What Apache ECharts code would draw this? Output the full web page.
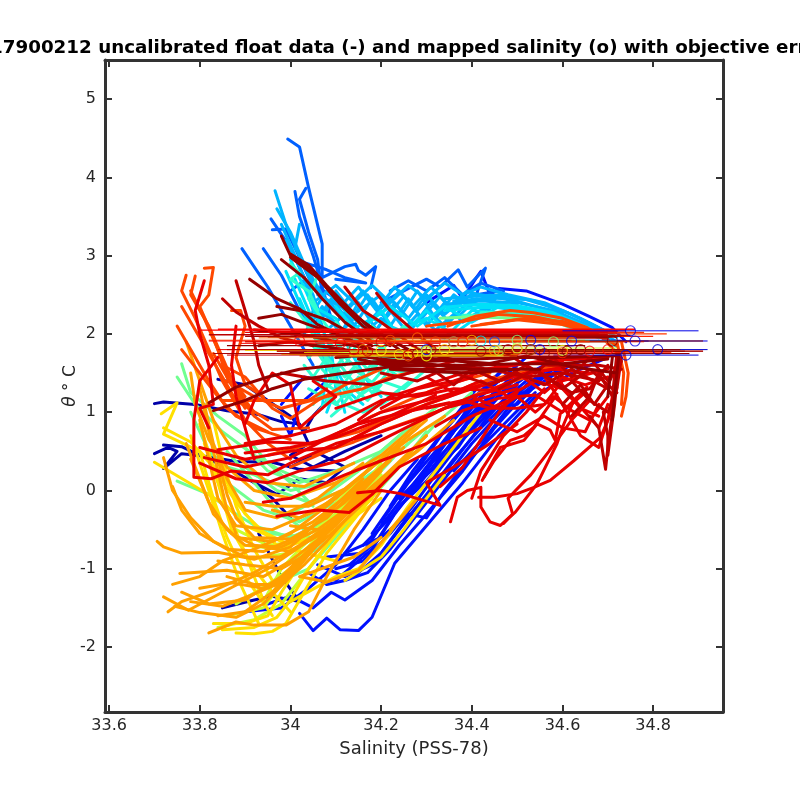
<!DOCTYPE html>
<html>
<head>
<meta charset="utf-8">
<script src="https://cdn.jsdelivr.net/npm/echarts@6/dist/echarts.min.js"></script>
<style>html,body{margin:0;padding:0;background:#fff}#chart{width:800px;height:800px}</style>
</head>
<body>
<div id="chart"></div>
<script>
var xTicks=[33.6,33.8,34,34.2,34.4,34.6,34.8];
var yTicks=[-2,-1,0,1,2,3,4,5];

// profiles: salinity,theta,salinity,theta,...
var navyProfiles=[
[33.70,1.11,33.72,1.13,33.79,1.1,33.86,1.02,33.93,0.97,33.98,0.88,34.02,0.85,34.04,0.6,34.0,0.45,34.05,0.3,34.12,0.5,34.2,0.7],
[33.70,0.47,33.73,0.55,33.75,0.5,33.72,0.28,33.76,0.47,33.82,0.43,33.88,0.37,33.96,0.36,34.02,0.27,34.1,0.25],
[33.72,0.58,33.76,0.56,33.8,0.45,33.86,0.3,33.92,0.1,33.96,-0.1,34.0,-0.35],
[33.84,1.42,33.9,1.35,33.95,1.15,34.0,0.95,34.03,0.75,34.05,0.95,34.09,1.2],
[33.92,0.1,33.97,-0.05,34.02,0.15,34.08,0.1,34.12,0.3,34.06,0.48,34.0,0.3],
[33.85,-1.5,33.92,-1.4,33.96,-1.35,34.02,-1.42,33.98,-1.1,33.93,-0.55]
];
var blueProfiles=[
[34.02,-1.57,34.05,-1.79,34.08,-1.63,34.11,-1.78,34.15,-1.79,34.18,-1.62,34.23,-0.93,34.3,-0.45,34.38,0.1,34.46,0.7,34.54,1.2,34.62,1.5,34.7,1.7],
[33.95,-1.45,34.0,-1.35,34.05,-1.5,34.09,-1.3,34.12,-1.4,34.18,-1.15,34.24,-0.7,34.3,-0.3,34.38,0.25,34.45,0.8,34.52,1.25,34.6,1.55],
[34.04,-1.05,34.08,-1.2,34.12,-1.15,34.17,-1.05,34.22,-0.75,34.28,-0.3,34.34,0.15,34.4,0.6,34.48,1.1,34.56,1.45,34.66,1.7],
[34.06,-0.95,34.12,-1.1,34.18,-0.95,34.24,-0.5,34.3,-0.05,34.36,0.4,34.42,0.8,34.5,1.25,34.58,1.55],
[34.1,-1.0,34.16,-0.9,34.22,-0.55,34.27,-0.2,34.32,0.2,34.38,0.65,34.44,1.0,34.52,1.4],
[34.08,-0.85,34.16,-0.8,34.2,-0.45,34.26,0,34.3,0.3,34.35,0.7,34.42,1.1,34.5,1.5],
[34.12,-0.8,34.2,-0.6,34.26,-0.3,34.3,-0.35,34.34,0,34.38,0.3,34.42,0.55,34.48,0.9,34.54,1.25],
[34.16,-0.7,34.22,-0.35,34.28,0.05,34.34,0.5,34.4,0.95,34.46,1.3,34.56,1.6],
[34.2,-0.4,34.26,0.1,34.32,0.5,34.38,0.95,34.45,1.4],
[34.24,-0.1,34.3,0.25,34.36,0.75,34.4,1.15,34.48,1.6],
[34.28,0.1,34.34,0.6,34.42,1.2,34.52,1.7],
[33.9,-1.55,33.98,-1.5,34.04,-1.25,34.1,-0.95,34.16,-0.5,34.22,0.0,34.28,0.4],
[34.3,2.4,34.36,2.62,34.38,2.45,34.41,2.72,34.42,2.8,34.44,2.5,34.46,2.58,34.52,2.55,34.6,2.38,34.66,2.22,34.71,2.08,34.74,1.9],
[33.98,0.95,34.0,0.7,34.02,1.1,34.08,1.4,34.03,1.45,33.98,1.1],
[34.14,-1.1,34.2,-0.8,34.25,-0.4,34.31,0.0,34.37,0.45,34.43,0.9,34.5,1.35],
[34.1,-1.15,34.18,-0.75,34.23,-0.3,34.29,0.15,34.34,0.4,34.4,0.8,34.46,1.2,34.53,1.5],
[34.13,-0.95,34.19,-0.65,34.24,-0.2,34.3,0.12,34.37,0.6,34.43,1.05,34.5,1.45],
[34.26,-0.05,34.31,0.35,34.36,0.6,34.41,1.05,34.47,1.35],
[34.3,0.2,34.35,0.5,34.39,0.85,34.44,1.15,34.5,1.55],
[34.22,-0.2,34.27,0.25,34.33,0.7,34.39,1.1,34.46,1.5],
[34.18,-0.55,34.24,-0.05,34.29,0.35,34.35,0.85,34.41,1.3],
[34.33,0.35,34.37,0.55,34.41,0.9,34.45,1.05,34.5,1.1,34.55,1.4],
[34.36,0.25,34.4,0.5,34.44,0.75,34.48,1.05,34.52,1.35,34.58,1.6]
];
var azureProfiles=[
[33.994,4.49,34.02,4.39,34.04,3.87,34.07,3.15,34.07,2.72,34.12,2.86,34.144,2.89,34.15,2.81,34.166,2.75,34.188,2.86,34.177,2.59],
[34.01,3.82,34.02,3.5,34.05,3.0,34.07,2.6,34.09,2.2],
[34.034,3.86,34.02,3.72,34.04,3.3,34.06,2.95,34.07,2.5],
[33.957,3.47,34.0,3.1,34.04,2.6,34.07,2.2],
[33.96,3.33,33.99,3.34,34.01,3.1,34.05,2.6],
[33.893,3.09,33.95,2.6,34.0,2.1,34.05,1.6],
[33.94,3.09,33.98,2.75,34.02,2.3,34.05,2.0],
[34.02,2.93,34.08,2.82,34.12,2.72,34.166,2.65,34.1,2.7],
[34.0,2.55,34.03,2.68,34.06,2.6,34.1,2.45],
[34.2,2.4,34.25,2.55,34.3,2.7,34.33,2.6,34.37,2.82,34.39,2.6,34.43,2.84,34.41,2.5,34.46,2.55],
[34.22,2.55,34.26,2.68,34.3,2.55,34.34,2.72,34.38,2.5,34.42,2.65,34.47,2.55]
];
var skyProfiles=[
[33.966,3.83,33.99,3.4,34.02,3.0,34.05,2.6,34.1,2.3],
[33.97,3.6,34.0,3.3,34.03,2.9,34.06,2.55,34.12,2.2],
[34.02,3.4,34.01,3.1,34.04,2.8,34.08,2.4],
[33.98,3.4,34.01,3.0,34.03,2.7,34.05,2.3],
[33.99,3.2,34.02,2.85,34.05,2.5,34.07,2.1],
[34.05,2.4,34.1,2.62,34.14,2.4,34.18,2.62,34.22,2.4,34.26,2.62,34.3,2.45,34.34,2.65,34.38,2.5,34.42,2.6,34.48,2.5,34.56,2.4,34.64,2.2,34.7,2.02],
[34.04,2.2,34.08,2.55,34.12,2.3,34.16,2.55,34.2,2.25,34.24,2.55,34.28,2.3,34.32,2.55,34.36,2.3,34.4,2.52,34.5,2.42,34.6,2.25,34.68,2.05],
[34.05,2.1,34.09,2.45,34.13,2.15,34.17,2.5,34.21,2.2,34.25,2.48,34.29,2.2,34.33,2.48,34.37,2.22,34.41,2.45,34.5,2.35,34.6,2.2,34.68,2.0],
[34.03,2.0,34.07,2.35,34.11,2.0,34.15,2.4,34.19,2.05,34.23,2.4,34.27,2.1,34.31,2.4,34.35,2.15,34.39,2.4,34.5,2.3,34.62,2.1],
[34.03,2.6,34.07,2.2,34.1,2.5,34.14,2.1,34.18,2.45,34.22,2.1,34.26,2.45,34.3,2.1,34.34,2.4,34.38,2.15,34.44,2.38,34.55,2.25,34.66,2.0],
[34.1,2.55,34.14,2.25,34.2,2.5,34.24,2.2,34.28,2.55,34.32,2.2,34.36,2.5,34.42,2.25,34.46,2.5,34.52,2.3,34.6,2.28],
[34.06,2.5,34.11,2.35,34.15,2.6,34.19,2.3,34.23,2.6,34.27,2.35,34.31,2.6,34.35,2.35,34.39,2.55,34.45,2.42],
[34.06,2.3,34.1,2.15,34.14,2.4,34.18,2.2,34.22,2.45,34.26,2.2,34.3,2.5,34.34,2.25,34.38,2.45,34.44,2.3],
[34.34,2.45,34.4,2.48,34.46,2.5,34.54,2.42,34.62,2.25,34.7,2.02],
[34.36,2.42,34.44,2.46,34.52,2.44,34.6,2.3,34.66,2.14,34.72,1.96],
[34.34,2.38,34.42,2.42,34.5,2.4,34.58,2.3,34.66,2.1,34.72,1.9],
[34.08,2.05,34.12,2.25,34.16,2.0,34.2,2.2,34.24,2.0,34.28,2.25,34.32,2.05,34.36,2.25],
[34.1,1.95,34.14,2.2,34.18,1.98,34.22,2.3,34.26,2.0,34.3,2.32,34.34,2.1]
];
var cyanProfiles=[
[34.0,2.95,34.03,2.6,34.06,2.2,34.09,1.8,34.1,1.3,34.08,1.0],
[33.99,2.8,34.02,2.4,34.05,2.0,34.08,1.6,34.07,1.05],
[34.01,2.7,34.04,2.3,34.07,1.9,34.1,1.5,34.12,1.0],
[34.02,2.45,34.05,2.05,34.09,1.65,34.13,1.25,34.16,1.1],
[34.05,2.35,34.1,2.2,34.13,1.8,34.17,1.4,34.2,1.2],
[34.34,2.34,34.42,2.38,34.5,2.36,34.58,2.27,34.66,2.07,34.72,1.86],
[34.34,2.3,34.42,2.34,34.5,2.33,34.58,2.24,34.66,2.04,34.72,1.84],
[34.12,2.3,34.16,2.1,34.22,2.35,34.28,2.1,34.34,2.35,34.4,2.15,34.46,2.35,34.56,2.22,34.66,2.02],
[34.1,2.35,34.15,2.0,34.2,2.3,34.24,1.95,34.3,2.3,34.35,2.0,34.4,2.3,34.5,2.25,34.6,2.15,34.68,1.98],
[34.12,2.0,34.18,2.2,34.24,2.05,34.3,2.2,34.36,2.0,34.42,2.25]
];
var aquaProfiles=[
[34.05,1.1,34.08,1.35,34.12,1.2,34.15,1.45,34.18,1.25,34.22,1.55,34.26,1.5],
[34.04,1.3,34.1,1.1,34.14,1.35,34.18,1.5,34.2,1.7,34.25,1.7],
[34.03,1.6,34.07,1.3,34.11,1.6,34.15,1.3,34.19,1.65,34.24,1.45],
[34.05,1.85,34.09,1.5,34.13,1.8,34.17,1.55,34.21,1.85],
[34.08,2.1,34.12,1.75,34.16,2.05,34.2,1.8,34.25,2.1,34.3,1.9],
[34.15,1.2,34.2,1.4,34.25,1.3,34.3,1.55,34.36,1.5],
[34.06,2.75,34.04,2.45,34.08,2.1,34.12,1.7,34.16,1.5],
[34.06,1.0,34.09,1.2,34.11,1.05,34.14,1.3,34.17,1.15,34.2,1.35],
[34.05,1.45,34.08,1.7,34.12,1.45,34.16,1.7,34.2,1.5,34.24,1.75],
[34.04,1.7,34.08,1.95,34.12,1.6,34.15,1.9,34.2,1.6,34.26,1.8],
[34.06,1.22,34.1,1.42,34.14,1.12,34.17,1.35,34.22,1.2,34.26,1.38],
[34.07,1.55,34.11,1.3,34.14,1.55,34.18,1.38,34.22,1.65,34.28,1.65],
[34.0,2.9,34.02,2.78,34.0,2.7,34.04,2.55,34.06,2.3],
[34.0,2.4,34.03,2.18,34.07,1.8,34.1,1.4],
[34.1,2.15,34.14,1.9,34.18,2.1,34.22,1.9,34.28,2.05,34.34,1.95],
[34.09,0.95,34.12,1.1,34.16,1.0,34.2,1.1,34.24,1.25],
[34.42,2.27,34.5,2.28,34.58,2.2,34.66,2.0],
[34.38,2.24,34.48,2.25,34.58,2.16,34.68,1.95]
];
var greenProfiles=[
[33.76,1.62,33.78,1.25,33.84,0.95,33.9,0.7,33.95,0.35,34.0,0.1,34.05,-0.2],
[33.75,1.45,33.79,1.1,33.85,0.75,33.92,0.45,33.98,0.25,34.04,0.1],
[33.75,0.12,33.82,-0.05,33.88,-0.3,33.95,-0.55,34.05,-0.6,34.12,-0.3,34.2,0.1],
[33.86,0.5,33.92,0.1,33.97,-0.25,34.03,-0.5,34.1,-0.35,34.18,0],
[33.9,0.55,33.95,0.25,34.02,0.1,34.1,0.25,34.2,0.5,34.28,0.9],
[34.0,-0.9,34.06,-0.75,34.12,-0.45,34.18,-0.05,34.25,0.4,34.32,0.85,34.4,1.25],
[33.96,-1.2,34.04,-1.0,34.1,-0.6,34.17,-0.15,34.24,0.3,34.3,0.75],
[34.33,2.2,34.4,2.22,34.5,2.2,34.6,2.15,34.68,1.96],
[34.0,-0.3,34.08,-0.05,34.15,0.25,34.24,0.7,34.33,1.1],
[33.9,0.3,33.97,0,34.04,-0.15,34.12,0,34.2,0.3,34.3,0.8],
[33.86,0.1,33.94,-0.25,34.02,-0.4,34.1,-0.15,34.18,0.2,34.26,0.6],
[33.78,1.0,33.82,0.5,33.86,0.3,33.92,0.2,34.0,0,34.08,0.1],
[33.92,-0.45,34.0,-0.6,34.08,-0.4,34.16,0,34.24,0.5]
];
var limeProfiles=[
[33.86,-1.6,33.94,-1.5,33.98,-1.2,34.02,-0.85,34.08,-0.45,34.15,0.02],
[33.88,-1.45,33.95,-1.2,34.0,-1.0,34.06,-0.6,34.12,-0.2,34.2,0.2],
[33.94,-0.85,34.0,-0.8,34.06,-0.55,34.14,-0.1,34.2,0.35],
[33.9,-0.7,33.98,-0.75,34.04,-0.5,34.12,-0.05,34.2,0.45],
[33.88,-0.5,33.95,-0.7,34.02,-0.65,34.1,-0.3,34.18,0.1],
[33.84,-1.75,33.92,-1.65,33.98,-1.45,34.02,-1.15,34.08,-0.7,34.14,-0.3],
[33.94,-1.42,33.98,-1.0,34.02,-0.75,34.08,-0.42,34.14,-0.05]
];
var yellowProfiles=[
[33.70,0.36,33.79,0.05,33.86,-0.2,33.9,-0.45,33.98,-0.65],
[33.88,-1.82,33.92,-1.83,33.96,-1.8,33.99,-1.7,34.03,-1.3,34.08,-0.8,34.15,-0.3,34.22,0.2],
[33.85,-1.78,33.92,-1.75,33.97,-1.62,34.0,-1.4,34.04,-1.0,34.1,-0.55,34.18,-0.1],
[33.83,-1.7,33.9,-1.7,33.95,-1.6,33.98,-1.3,34.02,-0.95,34.08,-0.5],
[33.81,0.6,33.84,0.1,33.87,-0.5,33.92,-1.0,33.96,-1.3,34.0,-1.55],
[33.8,0.85,33.83,0.3,33.86,-0.25,33.9,-0.8,33.94,-1.4],
[33.715,0.98,33.75,1.12,33.72,0.72,33.8,0.5,33.85,0.2,33.9,-0.3,33.97,-0.7,34.1,-0.9],
[33.72,0.8,33.78,0.62,33.83,0.3,33.88,-0.15,33.93,-0.5,34.0,-0.7,34.1,-0.5,34.2,-0.1],
[34.0,-1.42,34.1,-1.1,34.15,-1.0,34.2,-0.7,34.26,-0.2,34.32,0.25,34.38,0.7,34.42,1.0],
[34.12,-1.15,34.2,-0.85,34.25,-0.5,34.3,-0.1,34.34,0.2],
[33.8,0.5,33.83,-0.1,33.86,-0.6,33.9,-1.1,33.96,-1.6],
[33.78,0.7,33.82,0.0,33.85,-0.55,33.89,-1.2,33.93,-1.7],
[33.83,0.9,33.85,0.4,33.88,-0.2,33.92,-0.75,33.97,-1.25]
];
var orangeProfiles=[
[33.706,-0.65,33.72,-0.72,33.76,-0.8,33.84,-0.79,33.92,-0.88,34.0,-0.72,34.08,-0.3,34.16,0.15],
[33.756,-1.06,33.86,-1.02,33.94,-1.1,34.0,-0.9,34.1,-0.45,34.18,0.05,34.26,0.45],
[33.72,-1.36,33.775,-1.53,33.85,-1.3,33.95,-1.0,34.05,-0.6,34.15,-0.15,34.24,0.35,34.3,0.7],
[33.73,-1.55,33.76,-1.42,33.83,-1.28,33.92,-1.05,34.02,-0.7,34.12,-0.3,34.22,0.2],
[33.745,-1.48,33.8,-1.56,33.88,-1.62,33.94,-1.45,34.0,-1.1,34.08,-0.55,34.14,-0.1,34.24,0.55],
[33.76,-1.3,33.82,-1.45,33.9,-1.4,33.98,-1.1,34.06,-0.65,34.15,-0.15],
[33.82,-1.82,33.88,-1.68,33.92,-1.72,33.99,-1.72,34.04,-1.55,34.08,-1.1,34.14,-0.5,34.2,0],
[33.74,-1.2,33.8,-1.1,33.85,-0.9,33.92,-0.75,34.0,-0.55,34.08,-0.2,34.18,0.3,34.28,0.8],
[33.72,0.42,33.74,0.0,33.78,-0.35,33.83,-0.65,33.9,-0.85,33.98,-0.85,34.08,-0.5,34.2,0.15,34.3,0.7],
[33.74,0.05,33.76,-0.25,33.8,-0.55,33.86,-0.75,33.94,-0.78,34.02,-0.58,34.12,-0.15,34.22,0.38],
[33.77,0.6,33.8,0.15,33.83,-0.3,33.88,-0.6,33.96,-0.65,34.05,-0.4,34.15,0.05,34.25,0.55],
[33.8,0.9,33.82,0.4,33.84,-0.1,33.88,-0.45,33.96,-0.5,34.06,-0.25,34.16,0.2,34.26,0.7],
[33.81,1.1,33.83,0.6,33.86,0.15,33.9,-0.25,33.97,-0.35,34.06,-0.1,34.16,0.35],
[33.78,1.5,33.79,1.1,33.82,0.65,33.86,0.3,33.92,0,34.0,-0.1,34.1,0.1,34.2,0.45,34.3,0.95],
[33.77,1.9,33.8,1.4,33.83,0.9,33.88,0.45,33.95,0.1,34.03,0.05,34.14,0.35],
[34.22,-0.5,34.28,-0.1,34.15,-1.02,34.08,-1.17,34.02,-1.1,34.14,-0.85,34.2,-0.6],
[33.84,0.4,33.86,-0.05,33.88,-0.35,33.92,-0.6,34.0,-0.62,34.08,-0.35,34.16,0.1],
[33.87,-0.55,33.92,-0.7,34.0,-0.78,34.07,-0.55,34.14,-0.2,34.22,0.25,34.3,0.6],
[33.84,-0.9,33.9,-0.95,33.98,-1.0,34.04,-0.8,34.1,-0.5,34.18,-0.05,34.24,0.3],
[33.86,-1.1,33.92,-1.2,33.98,-1.2,34.03,-0.95,34.08,-0.65,34.14,-0.25],
[33.8,-1.25,33.87,-1.18,33.94,-1.25,34.0,-1.08,34.05,-0.75,34.1,-0.4,34.2,0.1],
[33.78,-1.42,33.85,-1.48,33.92,-1.32,33.97,-1.2,34.03,-0.85,34.1,-0.35,34.18,0.18],
[33.84,-1.6,33.9,-1.55,33.96,-1.3,34.02,-0.9,34.07,-0.6,34.12,-0.25,34.2,0.25],
[34.0,-0.45,34.06,-0.5,34.12,-0.25,34.2,0.15,34.28,0.5,34.36,0.9],
[33.96,-0.25,34.02,-0.35,34.1,-0.1,34.18,0.3,34.26,0.65,34.34,0.95],
[33.9,-0.15,33.96,-0.2,34.04,-0.2,34.12,0.02,34.2,0.4,34.3,0.9],
[33.78,0.4,33.82,-0.15,33.86,-0.5,33.9,-0.7,33.98,-0.72,34.06,-0.5],
[33.8,1.3,33.82,0.75,33.84,0.25,33.86,-0.25,33.88,-0.55]
];
var redOrangeProfiles=[
[33.77,2.75,33.76,2.55,33.79,2.2,33.82,1.8,33.85,1.4,33.9,0.9,33.95,0.6,34.0,0.4],
[33.79,2.74,33.78,2.5,33.82,2.1,33.85,1.7,33.88,1.3,33.92,1.0],
[33.81,2.84,33.83,2.85,33.82,2.5,33.8,2.35,33.83,1.95,33.86,1.5,33.9,1.2],
[33.75,2.1,33.78,1.8,33.82,1.4,33.86,1.05,33.92,0.8,34.0,0.65],
[33.76,2.35,33.8,1.95,33.84,1.55,33.88,1.15,33.95,0.9],
[33.87,2.3,33.89,2.3,33.9,2.1,33.88,1.7,33.9,1.35,33.94,1.2],
[33.85,1.6,33.9,1.45,33.96,1.05,34.0,0.92,34.06,1.15,34.12,1.35,34.2,1.55],
[33.86,1.4,33.92,1.2,33.98,1.05,34.08,1.2,34.16,1.3,34.22,1.45,34.3,1.55],
[34.0,0.3,34.1,0.55,34.2,0.85,34.3,1.1,34.4,1.35,34.5,1.5,34.6,1.6],
[33.95,0.45,34.05,0.6,34.15,0.75,34.25,1.0,34.35,1.2,34.45,1.45],
[34.347,2.1,34.41,2.23,34.485,2.3,34.536,2.27,34.6,2.2,34.655,2.08,34.72,1.85],
[34.3,2.1,34.38,2.16,34.46,2.25,34.54,2.22,34.62,2.12,34.7,1.92],
[34.73,1.9,34.745,1.5,34.74,1.2,34.73,0.95],
[34.72,1.9,34.735,1.5,34.73,1.1],
[34.4,2.1,34.5,2.18,34.6,2.12,34.68,2.0,34.73,1.7],
[33.78,2.55,33.81,2.2,33.84,1.8,33.86,1.45,33.9,1.05],
[33.76,1.8,33.8,1.5,33.84,1.2,33.88,0.95,33.95,0.75],
[33.83,1.75,33.87,1.35,33.92,0.95,33.96,0.78,34.04,0.8],
[34.42,2.12,34.52,2.2,34.6,2.16,34.68,2.02],
[33.85,1.15,33.92,1.15,33.98,1.15,34.04,1.15,34.08,1.3],
[34.1,0.7,34.18,0.95,34.26,1.15,34.34,1.35,34.44,1.5],
[34.05,0.45,34.14,0.62,34.22,0.8,34.32,1.0,34.42,1.25,34.52,1.45]
];
var redProfiles=[
[33.81,2.68,33.79,2.3,33.8,2.0,33.82,1.6,33.83,1.1,33.8,1.05,33.82,0.8],
[33.84,1.7,33.8,1.4,33.787,0.9,33.787,0.17,33.825,0.15,33.87,0.25,33.95,0.2,34.0,0.35,34.1,0.6,34.2,0.75,34.3,0.95,34.4,1.2,34.5,1.35],
[33.8,0.55,33.9,0.4,34.0,0.5,34.1,0.55,34.2,0.85,34.3,1.1,34.4,1.3,34.55,1.55],
[33.81,0.42,33.9,0.3,34.0,0.42,34.1,0.72,34.2,1.0,34.3,1.15,34.42,1.35],
[33.8,0.35,33.88,0.15,33.95,0.1,34.02,0.25,34.12,0.4,34.22,0.7,34.34,1.05,34.5,1.3],
[33.9,0.6,34.0,0.7,34.1,0.85,34.2,1.15,34.3,1.25,34.4,1.45],
[33.94,-0.15,34.0,-0.1,34.06,0.05,34.12,0.2,34.2,0.38,34.3,0.6,34.4,0.95,34.5,1.2],
[33.97,-0.33,34.06,-0.25,34.13,-0.28,34.18,-0.05,34.24,0.3,34.34,0.6,34.42,0.8],
[34.148,-0.03,34.2,0,34.243,-0.04,34.33,-0.19,34.3,0.1,34.36,0.3,34.44,0.6,34.5,0.85],
[34.353,-0.4,34.368,-0.085,34.39,0,34.42,0.04,34.42,-0.21,34.44,-0.4,34.463,-0.447,34.496,-0.277,34.544,0.085,34.588,0.6,34.603,0.85,34.625,1.15,34.654,1.32],
[34.415,-0.085,34.449,-0.085,34.5,-0.04,34.537,0.04,34.573,0.13,34.625,0.38,34.684,0.68,34.706,0.98,34.72,1.32],
[34.423,0.13,34.463,0.55,34.515,0.64,34.544,0.85,34.573,0.77,34.584,0.64,34.595,0.98,34.632,1.19],
[34.427,0.17,34.449,0.38,34.485,0.64,34.515,0.7,34.537,0.81,34.588,1.23],
[34.4,-0.1,34.42,0.25,34.47,0.7,34.52,1.0,34.56,1.3],
[34.33,0.05,34.38,0.3,34.42,0.65,34.46,1.0,34.5,1.25],
[34.47,-0.42,34.49,-0.3,34.48,-0.1,34.53,0.2,34.57,0.5,34.62,0.9,34.66,1.15],
[34.4,1.2,34.46,1.05,34.5,1.2,34.54,1.0,34.58,1.2,34.62,1.02,34.66,0.9,34.7,1.2],
[34.3,1.45,34.36,1.25,34.42,1.4,34.48,1.2,34.54,1.4,34.6,1.3,34.64,1.05,34.68,0.95],
[34.55,1.55,34.6,1.1,34.64,0.7,34.68,0.55,34.7,0.9,34.72,1.5],
[34.05,1.4,34.1,1.2,34.06,1.0,34.02,0.8,34.0,1.35,33.96,1.5,33.92,1.15,33.9,0.85],
[33.88,2.1,33.87,1.6,33.88,1.2,33.9,0.8,33.92,0.4],
[34.15,0.9,34.22,1.2,34.3,1.35,34.38,1.5,34.48,1.6,34.6,1.65],
[34.2,1.05,34.28,1.3,34.36,1.4,34.44,1.55,34.55,1.65,34.7,1.7],
[34.1,1.05,34.2,1.25,34.28,1.2,34.36,1.3,34.44,1.28,34.52,1.48,34.62,1.6],
[34.3,1.05,34.38,1.15,34.44,1.05,34.5,1.05,34.56,1.1,34.6,1.4,34.7,1.55],
[34.32,0.82,34.38,1.02,34.46,1.18,34.54,1.22,34.6,1.0,34.65,1.25],
[34.44,0.9,34.5,0.75,34.56,0.95,34.6,0.8,34.65,0.75,34.68,1.1],
[34.58,1.5,34.62,1.2,34.65,1.0,34.68,0.8,34.7,1.1],
[34.5,1.5,34.56,1.25,34.6,1.45,34.65,1.35,34.7,1.45],
[34.4,1.55,34.46,1.4,34.52,1.5,34.58,1.55,34.66,1.5],
[33.84,0.52,33.95,0.62,34.05,0.6,34.15,0.85,34.25,1.0,34.35,1.12],
[33.9,0.48,34.0,0.55,34.1,0.68,34.22,0.95,34.32,1.22]
];
var crimsonProfiles=[
[33.88,2.68,33.9,2.3,33.92,1.9,33.93,1.6,33.95,1.3],
[33.85,2.45,33.88,2.28,33.93,2.1,33.98,1.95,34.05,1.85],
[34.66,0.95,34.68,0.8,34.695,0.27,34.7,0.55,34.71,1.0,34.72,1.6],
[34.69,1.0,34.7,0.7,34.7,0.45,34.715,1.1,34.725,1.7],
[34.62,1.4,34.66,1.15,34.7,1.0,34.72,1.3,34.73,1.7],
[34.3,1.6,34.36,1.35,34.4,1.55,34.46,1.4,34.52,1.6,34.58,1.4,34.62,1.25,34.66,1.3,34.7,1.6],
[34.2,1.5,34.28,1.4,34.36,1.6,34.44,1.55,34.52,1.45,34.6,1.5,34.68,1.4],
[34.48,1.75,34.54,1.5,34.58,1.7,34.62,1.45,34.66,1.7,34.7,1.4,34.73,1.65],
[33.98,1.5,34.08,1.4,34.18,1.35,34.26,1.5,34.36,1.65],
[34.12,2.6,34.16,2.3,34.2,2.15,34.27,1.85,34.3,1.75],
[34.19,2.52,34.22,2.3,34.26,2.1,34.3,1.9,34.33,1.75],
[34.6,1.1,34.64,1.35,34.67,1.1,34.7,1.35,34.72,1.6],
[34.46,1.3,34.54,1.55,34.6,1.3,34.66,1.55,34.72,1.25],
[34.36,1.5,34.44,1.35,34.5,1.5,34.56,1.35,34.62,1.55,34.7,1.3],
[34.62,0.95,34.66,1.2,34.68,1.5,34.71,1.2,34.72,1.75],
[34.56,1.6,34.62,1.6,34.68,1.6,34.73,1.55]
];
var darkRedProfiles=[
[33.98,3.25,34.0,3.0,34.05,2.8,34.1,2.45,34.15,2.2,34.2,2.0,34.26,1.8],
[34.0,3.02,34.04,2.88,34.08,2.62,34.13,2.32,34.18,2.05,34.24,1.8],
[34.0,2.98,34.06,2.72,34.11,2.38,34.16,2.1,34.22,1.85],
[33.98,2.95,34.03,2.72,34.07,2.45,34.12,2.15,34.18,1.9],
[33.91,2.7,33.97,2.45,34.02,2.32,34.06,2.12,34.12,1.95,34.18,1.8],
[33.97,2.35,34.02,2.3,34.08,2.18,34.12,2.05,34.18,1.85],
[33.93,2.2,33.98,2.25,34.04,2.12,34.1,2.0,34.16,1.85],
[33.92,2.05,33.98,2.02,34.04,1.98,34.1,1.9,34.18,1.8,34.25,1.72],
[33.93,1.85,34.0,1.9,34.06,1.85,34.12,1.8,34.2,1.72],
[33.82,1.12,33.88,1.32,33.95,1.45,34.02,1.55,34.1,1.6,34.2,1.65,34.3,1.65],
[33.83,1.02,33.9,1.15,33.96,1.3,34.03,1.42,34.12,1.5,34.22,1.58,34.32,1.6],
[34.2,1.62,34.3,1.6,34.4,1.6,34.5,1.62,34.6,1.62,34.7,1.68],
[34.15,1.68,34.25,1.55,34.35,1.55,34.45,1.55,34.55,1.55],
[34.2,1.72,34.3,1.68,34.4,1.68,34.5,1.7,34.6,1.7,34.72,1.72],
[34.22,1.6,34.32,1.72,34.42,1.6,34.52,1.72,34.62,1.58,34.72,1.5],
[34.0,1.75,34.1,1.75,34.2,1.68,34.3,1.62,34.4,1.55],
[34.71,0.9,34.715,1.2,34.72,1.5,34.725,1.75],
[34.7,1.2,34.705,1.45,34.71,1.7],
[34.15,1.62,34.25,1.64,34.35,1.66,34.45,1.62],
[34.22,1.55,34.3,1.52,34.4,1.5,34.5,1.55],
[34.1,1.7,34.2,1.75,34.3,1.72,34.4,1.72,34.5,1.74]
];

// mapped salinity (o) with its objective error, in the order of the profiles
var mappedSal=[34.81,34.74,34.76,34.75,34.53,34.62,34.45,34.55,34.3,34.42,34.36,34.5,34.58,34.46,34.53,34.6,34.2,34.27,34.24,34.34,34.4,34.45,34.16,34.26,34.3,34.22,34.32,34.38,34.5,34.6,34.66,34.7,34.02,34.11,34.14,34.2,34.17,34.26,34.28,34.31,34.42,34.48,34.53,34.56,34.61,34.64,34.71,34.3,34.3,34.5,34.36,34.28];
var mappedTheta=[1.8,1.73,1.91,2.04,1.92,1.91,1.9,1.8,1.8,1.91,1.9,1.92,1.9,1.79,1.8,1.79,1.79,1.76,1.74,1.8,1.92,1.79,1.8,1.72,1.78,1.92,1.9,1.9,1.8,1.76,1.78,1.8,1.91,1.88,1.8,1.9,1.78,1.73,1.75,1.8,1.78,1.8,1.8,1.75,1.78,1.8,1.91,1.72,1.78,1.82,1.9,1.95];
var mappedErr=[0.11,0.16,0.16,0.15,0.2,0.17,0.25,0.17,0.3,0.3,0.25,0.16,0.15,0.25,0.25,0.2,0.3,0.24,0.26,0.2,0.25,0.2,0.3,0.24,0.24,0.4,0.42,0.4,0.24,0.24,0.25,0.1,0.2,0.22,0.3,0.3,0.2,0.4,0.45,0.45,0.45,0.3,0.3,0.32,0.3,0.22,0.2,0.17,0.17,0.22,0.3,0.35];
var mappedLevel=[0.08,0.09,0.1,0.1,0.12,0.12,0.2,0.14,0.16,0.36,0.42,0.5,0.5,0.55,0.58,0.6,0.62,0.64,0.66,0.68,0.7,0.72,0.74,0.76,0.78,0.8,0.82,0.84,0.8,0.84,0.86,0.87,0.88,0.89,0.9,0.91,0.92,0.93,0.96,0.95,0.96,0.97,0.98,0.98,0.99,0.99,1,0.62,0.56,0.58,0.82,0.78];
// upper bars without a distinct circle: start, end, theta
var bandStart=[34.5,34.45,34.55,34.2,34.25,33.84,33.8,34.0,33.95,33.9,34.1,34.15,34.0,33.82,34.1,33.9,33.95,33.86,34.05];
var bandEnd=[34.83,34.78,34.8,34.72,34.7,34.76,34.66,34.74,34.72,34.7,34.72,34.68,34.7,34.64,34.75,34.73,34.72,34.65,34.7];
var bandTheta=[2.0,2.02,1.97,2.05,1.95,2.06,2.05,2.04,2.03,2.02,2.01,2.0,1.99,1.99,1.98,1.97,1.96,1.85,1.95];

var groups=[navyProfiles,blueProfiles,azureProfiles,skyProfiles,cyanProfiles,aquaProfiles,greenProfiles,limeProfiles,yellowProfiles,orangeProfiles,redOrangeProfiles,redProfiles,crimsonProfiles,darkRedProfiles];
var groupColors=['#0000a8','#0010ff','#0060ff','#00b4ff','#00e0f8','#30ffd0','#70ff90','#c8ff30','#ffe000','#ffa000','#ff4800','#e80000','#c00000','#940000'];

function jet(f) {
    var v=4*f;
    var r=Math.max(0,Math.min(1,Math.min(v-1.5,-v+4.5)));
    var g=Math.max(0,Math.min(1,Math.min(v-0.5,-v+3.5)));
    var b=Math.max(0,Math.min(1,Math.min(v+0.5,-v+2.5)));
    return 'rgb('+Math.round(r*255)+','+Math.round(g*255)+','+Math.round(b*255)+')';
}
function toPairs(list) {
    var out=[];
    for(var i=0;i<list.length;i+=2){
        out.push([list[i],list[i+1]]);
    }
    return out;
}

var series=[];
for(var g=0;g<groups.length;g++){
    for(var p=0;p<groups[g].length;p++){
        series.push({
            type:'line',
            silent:true,
            showSymbol:false,
            symbol:'none',
            animation:false,
            lineStyle:{color:groupColors[g],width:3,cap:'round',join:'round'},
            data:toPairs(groups[g][p])
        });
    }
}
for(var i=0;i<bandTheta.length;i++){
    series.push({
        type:'line',silent:true,showSymbol:false,symbol:'none',animation:false,
        lineStyle:{color:jet(0.82+0.18*i/bandTheta.length),width:1.3},
        data:[[bandStart[i],bandTheta[i]],[bandEnd[i],bandTheta[i]]]
    });
}
var circles=[];
for(var i=0;i<mappedSal.length;i++){
    var c=jet(mappedLevel[i]);
    series.push({
        type:'line',silent:true,showSymbol:false,symbol:'none',animation:false,
        lineStyle:{color:c,width:1},
        data:[[mappedSal[i]-mappedErr[i],mappedTheta[i]],[mappedSal[i]+mappedErr[i],mappedTheta[i]]]
    });
    circles.push({value:[mappedSal[i],mappedTheta[i]],itemStyle:{color:'transparent',borderColor:c,borderWidth:1.1}});
}
series.push({type:'scatter',silent:true,animation:false,symbol:'circle',symbolSize:10,z:5,data:circles});

var axisInk='#333333';
var labelFont={color:'#262626',fontSize:16,fontFamily:'DejaVu Sans'};
function baseAxis(ticks) {
    return {
        type:'value',
        splitLine:{show:false},
        axisLine:{show:true,onZero:false,lineStyle:{color:axisInk,width:3}},
        axisTick:{show:true,inside:true,length:7,customValues:ticks,lineStyle:{color:axisInk,width:2}}
    };
}
var xBottom=baseAxis(xTicks),xTop=baseAxis(xTicks),yLeft=baseAxis(yTicks),yRight=baseAxis(yTicks);
xBottom.min=xTop.min=33.591;xBottom.max=xTop.max=34.954;
yLeft.min=yRight.min=-2.83;yLeft.max=yRight.max=5.5;
xBottom.position='bottom';xTop.position='top';
yLeft.position='left';yRight.position='right';
xTop.axisLabel={show:false};yRight.axisLabel={show:false};
xBottom.axisLabel=Object.assign({customValues:xTicks,margin:6,formatter:function(v){return String(v);}},labelFont);
yLeft.axisLabel=Object.assign({customValues:yTicks,margin:9,formatter:function(v){return String(v);}},labelFont);
xBottom.name='Salinity (PSS-78)';
xBottom.nameLocation='middle';
xBottom.nameGap=28;
xBottom.nameMoveOverlap=false;
xBottom.nameTextStyle=Object.assign({},labelFont,{fontSize:18});
yLeft.name='{i|θ} ° C';
yLeft.nameLocation='middle';
yLeft.nameGap=26;
yLeft.nameMoveOverlap=false;
yLeft.nameRotate=90;
yLeft.nameTextStyle=Object.assign({},labelFont,{fontSize:17,rich:{i:{fontStyle:'italic',fontSize:17,fontFamily:'DejaVu Sans',color:'#262626'}}});

var myChart=echarts.init(document.getElementById('chart'));
myChart.setOption({
    animation:false,
    backgroundColor:'#fff',
    title:{
        text:'17900212 uncalibrated float data (-) and mapped salinity (o) with objective error',
        left:404,top:34,textAlign:'center',
        textStyle:{fontFamily:'DejaVu Sans',fontWeight:'bold',fontSize:18.3,color:'#000'}
    },
    grid:{left:105,right:77,top:60,bottom:88,containLabel:false},
    xAxis:[xBottom,xTop],
    yAxis:[yLeft,yRight],
    series:series
});
</script>
</body>
</html>
